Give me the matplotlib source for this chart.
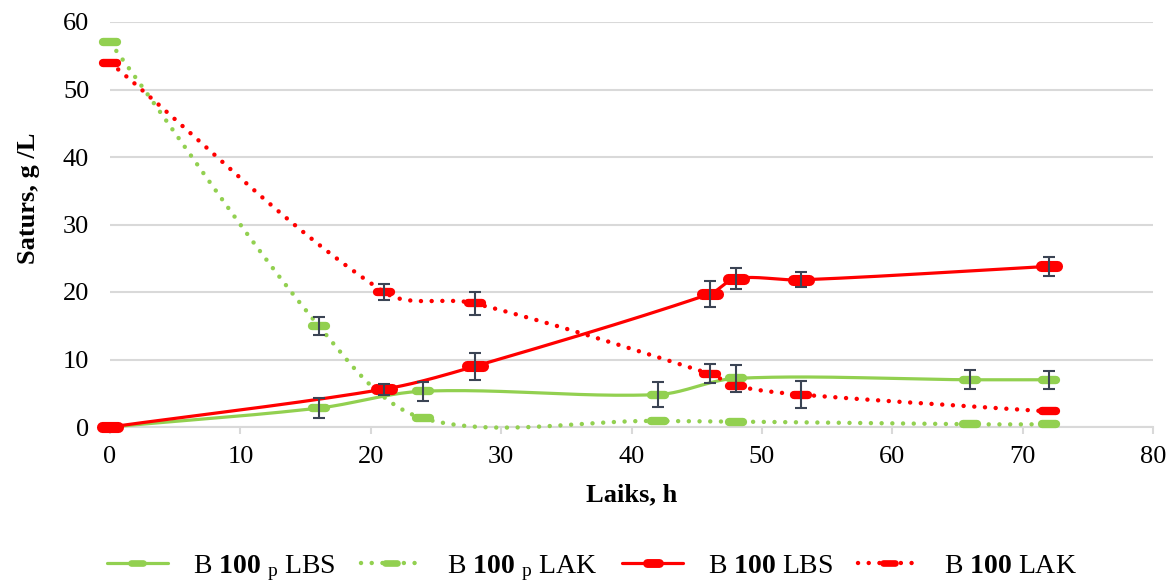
import matplotlib
matplotlib.use("Agg")
import matplotlib.pyplot as plt
from matplotlib.lines import Line2D
from matplotlib.markers import MarkerStyle
import numpy as np

plt.rcParams['font.family'] = ['Liberation Serif', 'DejaVu Serif']
plt.rcParams['mathtext.fontset'] = 'custom'
plt.rcParams['mathtext.rm'] = 'Liberation Serif'
plt.rcParams['mathtext.bf'] = 'Liberation Serif:bold'
plt.rcParams['mathtext.it'] = 'Liberation Serif:italic'

# Sampling times, h
t_p = [0, 16, 24, 42, 48, 66, 72]
t_b = [0, 21, 28, 46, 48, 53, 72]

# B 100 p
p_lbs = [0, 2.8, 5.3, 4.8, 7.2, 7.0, 7.0]
p_lbs_err = [0, 1.5, 1.4, 1.8, 2.0, 1.4, 1.3]
p_lak = [57.0, 15.0, 1.3, 0.9, 0.8, 0.4, 0.4]
p_lak_err = [0, 1.3, 0, 0, 0, 0, 0]

# B 100
b_lbs = [0, 5.6, 9.0, 19.7, 22.0, 21.8, 23.8]
b_lbs_err = [0, 0.8, 2.0, 1.9, 1.6, 1.1, 1.4]
b_lak = [54.0, 20.0, 18.3, 7.9, 6.1, 4.8, 2.3]
b_lak_err = [0, 1.2, 1.7, 1.4, 0, 2.0, 0]

labels = [r'B $\mathbf{100}$ $_{\mathrm{p}}$ LBS',
          r'B $\mathbf{100}$ $_{\mathrm{p}}$ LAK',
          r'B $\mathbf{100}$ LBS',
          r'B $\mathbf{100}$ LAK']

GREEN = '#92D050'
RED = '#FF0000'
ERR = '#3B4454'
GRID = '#D9D9D9'
FS = 19

W, H = 1174, 583
fig = plt.figure(figsize=(W / 100, H / 100), dpi=100)
ax = fig.add_axes([110 / W, 1 - 427 / H, (1153 - 110) / W, (427 - 22) / H])
ax.set_xlim(0, 80)
ax.set_ylim(0, 60)


def smooth(ax, xs, ys, n=40):
    # Bezier smoothing through the points, done in screen space
    pts = ax.transData.transform(np.column_stack([xs, ys]))
    out = [pts[0]]
    m = len(pts)
    for i in range(m - 1):
        p0 = pts[max(i - 1, 0)]
        p1 = pts[i]
        p2 = pts[i + 1]
        p3 = pts[min(i + 2, m - 1)]
        d01 = np.hypot(*(p1 - p0))
        d12 = np.hypot(*(p2 - p1))
        d23 = np.hypot(*(p3 - p2))
        f1 = (1 / 6) * 2 * d12 / (d01 + d12) if d01 + d12 > 0 else 0
        f2 = (1 / 6) * 2 * d12 / (d12 + d23) if d12 + d23 > 0 else 0
        c1 = p1 + f1 * (p2 - p0)
        c2 = p2 - f2 * (p3 - p1)
        t = np.linspace(0, 1, n)[1:, None]
        seg = ((1 - t) ** 3 * p1 + 3 * (1 - t) ** 2 * t * c1
               + 3 * (1 - t) * t ** 2 * c2 + t ** 3 * p2)
        out.extend(seg)
    out = ax.transData.inverted().transform(np.array(out))
    return out[:, 0], out[:, 1]


bar_marker = MarkerStyle('_', capstyle='round')
dot_style = (0, (0.01, 2.4))

# x, y, err, colour, line style, marker length, marker thickness
series = [
    (t_p, p_lbs, p_lbs_err, GREEN, '-', 10.5, 6),
    (t_p, p_lak, p_lak_err, GREEN, 'dot', 10.5, 6),
    (t_b, b_lbs, b_lbs_err, RED, '-', 11, 8),
    (t_b, b_lak, b_lak_err, RED, 'dot', 10.5, 6),
]

handles = []
for k, (x, y, e, c, ls, ms, mew) in enumerate(series):
    sx, sy = smooth(ax, x, y)
    if ls == 'dot':
        kw = dict(lw=3.2, linestyle=dot_style, dash_capstyle='round')
    else:
        kw = dict(lw=2.3, linestyle='-', solid_capstyle='round')
    ax.plot(sx, sy, color=c, zorder=3 + k * 0.1, clip_on=False, **kw)
    ax.plot(x, y, linestyle='none', marker=bar_marker, markersize=ms,
            markeredgewidth=mew, color=c, zorder=4 + k * 0.1, clip_on=False)
    xe = [xi for xi, ei in zip(x, e) if ei > 0]
    ye = [yi for yi, ei in zip(y, e) if ei > 0]
    ee = [ei for ei in e if ei > 0]
    ax.errorbar(xe, ye, yerr=ee, fmt='none', ecolor=ERR, elinewidth=1.5,
                capsize=4.3, capthick=1.5, zorder=6, clip_on=False)
    handles.append(Line2D([], [], color=c, marker=bar_marker, markersize=ms * 0.8,
                          markeredgewidth=mew * 0.8, **kw))

# Axes styling
ax.set_yticks(np.arange(0, 61, 10))
ax.set_xticks(np.arange(0, 81, 10))
ax.grid(axis='y', color=GRID, lw=1.5)
ax.set_axisbelow(True)
for s in ['left', 'right', 'top']:
    ax.spines[s].set_visible(False)
ax.spines['bottom'].set_color(GRID)
ax.spines['bottom'].set_linewidth(1.5)
ax.tick_params(axis='x', length=5, width=1.5, color=GRID, pad=9, labelsize=FS)
ax.tick_params(axis='y', length=0, pad=15, labelsize=FS)

ax.set_xlabel('Laiks, h', fontsize=FS, fontweight='bold')
ax.xaxis.set_label_coords(0.5, -0.14)
ax.set_ylabel('Saturs, g /L', fontsize=FS, fontweight='bold')
ax.yaxis.set_label_coords(-0.067, 0.565)

fig.legend(handles, labels, loc='center', bbox_to_anchor=(592 / W, 1 - 568 / H),
           ncol=4, frameon=False, fontsize=20, handlelength=2.2,
           handletextpad=0.9, columnspacing=0.9, numpoints=1,
           borderpad=0, borderaxespad=0)

fig.savefig('out.png', dpi=100)
